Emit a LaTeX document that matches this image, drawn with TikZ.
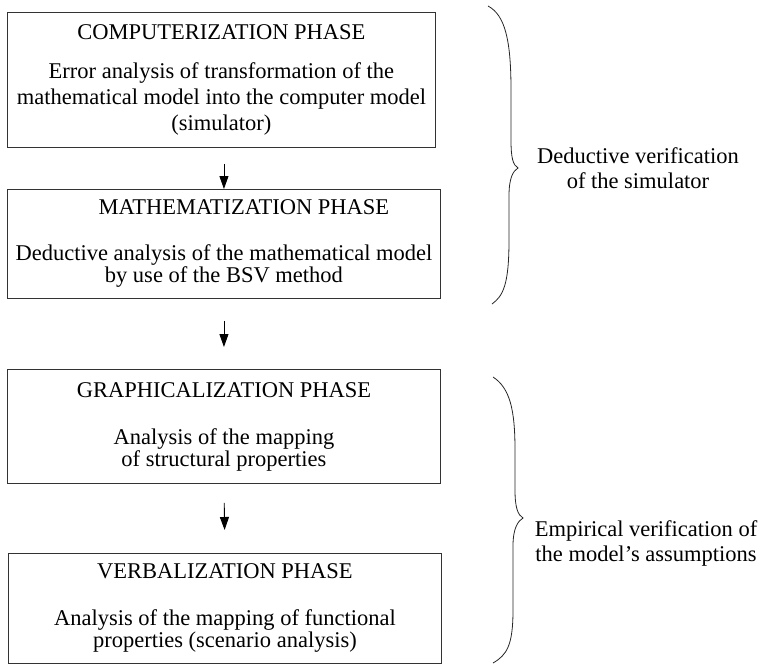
\documentclass[tikz,border=0pt]{standalone}
\usepackage{fontspec}
\setmainfont{Liberation Serif}
\usetikzlibrary{arrows.meta,positioning}
\tikzset{
  phase/.style={draw=black!80,line width=0.9pt,align=center,anchor=north west,
                inner sep=0pt,font=\fontsize{22.5}{22}\selectfont},
  arr/.style={-{Triangle[length=13pt,width=9pt]},line width=0.9pt},
  brc/.style={line width=0.8pt,draw=black!85},
  lbl/.style={align=center,font=\fontsize{22.5}{25}\selectfont},
}

\begin{document}
\begin{tikzpicture}[x=1pt,y=-1pt]
  \useasboundingbox (0,0) rectangle (766,665);
  % the four phases
  \node[phase,minimum width=428pt,minimum height=135pt,
        font=\fontsize{22.5}{26}\selectfont] (comp) at (7,12)
    {COMPUTERIZATION PHASE\\[13pt]
     Error analysis of transformation of the\\
     mathematical model into the computer model\\
     (simulator)};
  \node[phase,minimum width=433pt,minimum height=109pt] (math) at (7,189)
    {\hspace*{40pt}MATHEMATIZATION PHASE\\[24pt]
     Deductive analysis of the mathematical model\\
     by use of the BSV method};
  \node[phase,minimum width=433pt,minimum height=114pt] (graph) at (7,369)
    {GRAPHICALIZATION PHASE\\[25pt]
     Analysis of the mapping\\
     of structural properties};
  \node[phase,minimum width=433pt,minimum height=110pt] (verb) at (8,553)
    {VERBALIZATION PHASE\\[25pt]
     Analysis of the mapping of functional\\
     properties (scenario analysis)};
  \draw[arr,shorten <=16pt] (comp.south -| math.north) -- (math.north);
  \draw[arr,shorten <=22pt,shorten >=22pt] (math.south) -- (graph.north);
  \draw[arr,shorten <=19pt,shorten >=23pt] (graph.south) -- (verb.north);
  % braces
  \draw[brc] (488,6) .. controls (505,15) and (511,40) .. (511,90) -- (511,140)
    .. controls (511,158) and (513,165) .. (518,168)
    .. controls (513,171) and (509,178) .. (509,196) -- (509,240)
    .. controls (509,285) and (503,296) .. (492,304);
  \draw[brc] (493,377) .. controls (510,388) and (515,410) .. (515,450) -- (515,490)
    .. controls (515,508) and (518,515) .. (523,518)
    .. controls (518,521) and (513,528) .. (513,546) -- (513,610)
    .. controls (513,645) and (507,655) .. (493,663);
  \node[lbl] (ded) at (638,168) {Deductive verification\\of the simulator};
  \node[lbl] (emp) at (646,543) {Empirical verification of\\the model's assumptions};
\end{tikzpicture}
\end{document}
